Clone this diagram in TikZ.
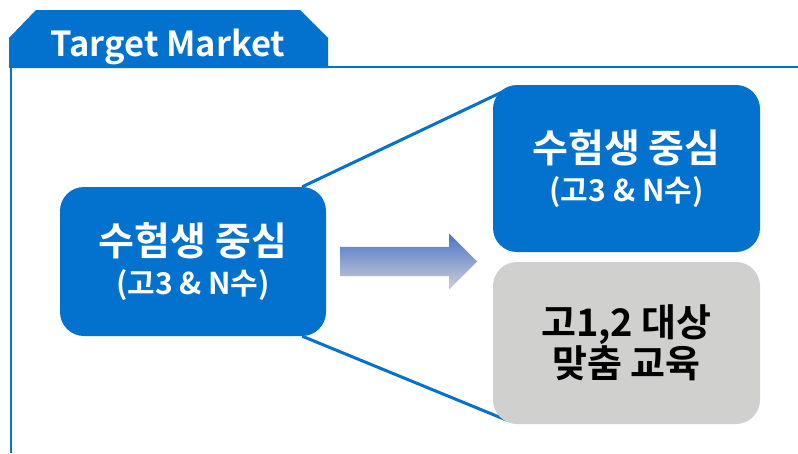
\documentclass[tikz,border=0pt]{standalone}
\usepackage{fontspec}
\setmainfont{Noto Sans CJK KR Bold}
\usetikzlibrary{shapes.arrows,backgrounds}
\definecolor{mblue}{HTML}{0272CE}
\definecolor{mgray}{HTML}{D0D0CE}
\definecolor{agtop}{HTML}{4A74C8}
\definecolor{agbot}{HTML}{CFCFD8}
\begin{document}
\begin{tikzpicture}[x=1pt,y=-1pt,
  box/.style={rounded corners=24pt, minimum width=266pt, inner sep=0pt, align=center},
  bigt/.style={font=\fontsize{30}{44}\selectfont},
  conn/.style={draw=mblue, line width=3pt}
]
\useasboundingbox (0,0) rectangle (798,453);
% frame lines
\draw[mblue, line width=2pt] (11,66) -- (11,453);
\draw[mblue, line width=2pt] (328,67) -- (798,67);
% tab
\path[fill=mblue] (9,68) -- (9,38) -- (36,10) -- (300,10) -- (328,38) -- (328,68) -- cycle;
\node[text=white, font=\fontsize{34.5}{40}\selectfont] (title) at (168,47) {Target Market};
% boxes
\node[box, fill=mblue, text=white, minimum height=149pt, bigt] (L) at (193,261.5)
  {{\fontsize{39}{44}\selectfont 수험생 중심}\\[-5pt]{(고3 \& N수)}};
\node[box, fill=mblue, text=white, minimum height=167pt, minimum width=267pt, bigt] (R1) at (626.5,168.5)
  {{\fontsize{39}{44}\selectfont 수험생 중심}\\[-5pt]{(고3 \& N수)}};
\node[box, fill=mgray, text=black, minimum height=162pt, minimum width=267pt, font=\fontsize{38}{44}\selectfont] (R2) at (626.5,343)
  {고1,2 대상\\[-3pt]맞춤 교육};
% connectors behind boxes
\coordinate (a1) at ([xshift=-24pt]L.north east);
\coordinate (b1) at ([xshift=14pt,yshift=-5pt]R1.north west);
\coordinate (a2) at ([xshift=-24pt]L.south east);
\coordinate (b2) at ([xshift=14pt,yshift=4pt]R2.south west);
\begin{scope}[on background layer]
\draw[conn] (a1) -- (b1);
\draw[conn] (a2) -- (b2);
\end{scope}
% arrow
\node[single arrow, anchor=tail, minimum height=137pt, text height=0pt, text depth=0pt, text width=0pt,
  inner xsep=0pt, inner ysep=14.5pt, single arrow head extend=13.5pt, single arrow tip angle=90,
  top color=agtop, bottom color=agbot, draw=none] (arr) at (340,261.5) {};
\end{tikzpicture}
\end{document}
